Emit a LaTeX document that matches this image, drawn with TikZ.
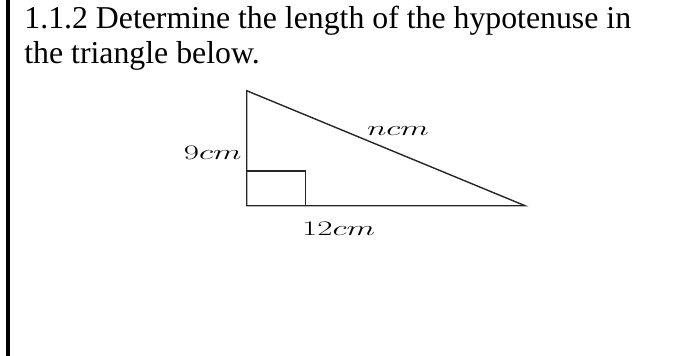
\documentclass[tikz,border=0pt]{standalone}
\usepackage{fontspec}
\setmainfont{Liberation Serif}
\usepackage{tikz}
\usetikzlibrary{positioning, calc}

\newcommand{\sidelabel}[1]{\scalebox{1.6}[1]{$#1$}}

\begin{document}
\begin{tikzpicture}[x=1pt, y=-1pt, thick,
        side/.style={draw=black!85, line width=1.4pt, line join=miter},
        dimlabel/.style={inner sep=0pt, font=\fontsize{22}{26}\selectfont}]
        \useasboundingbox (0,0) rectangle (688,356);
        \fill[black] (5.5,0) rectangle (9.5,356);

        % question text
        \node[anchor=base west, inner sep=0pt, font=\fontsize{31.8}{36}\selectfont] (line1) at (24,28.5) {1.1.2 Determine the length of the hypotenuse in};
        \node[anchor=base west, inner sep=0pt, font=\fontsize{31.8}{36}\selectfont] (line2) at ($(line1.base west)+(0,34.5)$) {the triangle below.};

        % triangle
        \coordinate (top) at (246.7,90.7);
        \coordinate (corner) at (246.7,205.7);
        \coordinate (tip) at (525,205.7);
        \draw[side] (top) -- (corner) -- (tip) -- cycle;
        \draw[side, line width=1.2pt] ($(corner)+(0,-34.7)$) -- ++(59,0) -- ++(0,34.7);

        \node[dimlabel, anchor=base east] (height) at (242,159.3) {\sidelabel{9cm}};
        \node[dimlabel, anchor=base west] (hyp) at (366.7,135) {\sidelabel{ncm}};
        \node[dimlabel, anchor=base west] (base) at (301.7,235) {\sidelabel{12cm}};
    \end{tikzpicture}
\end{document}
